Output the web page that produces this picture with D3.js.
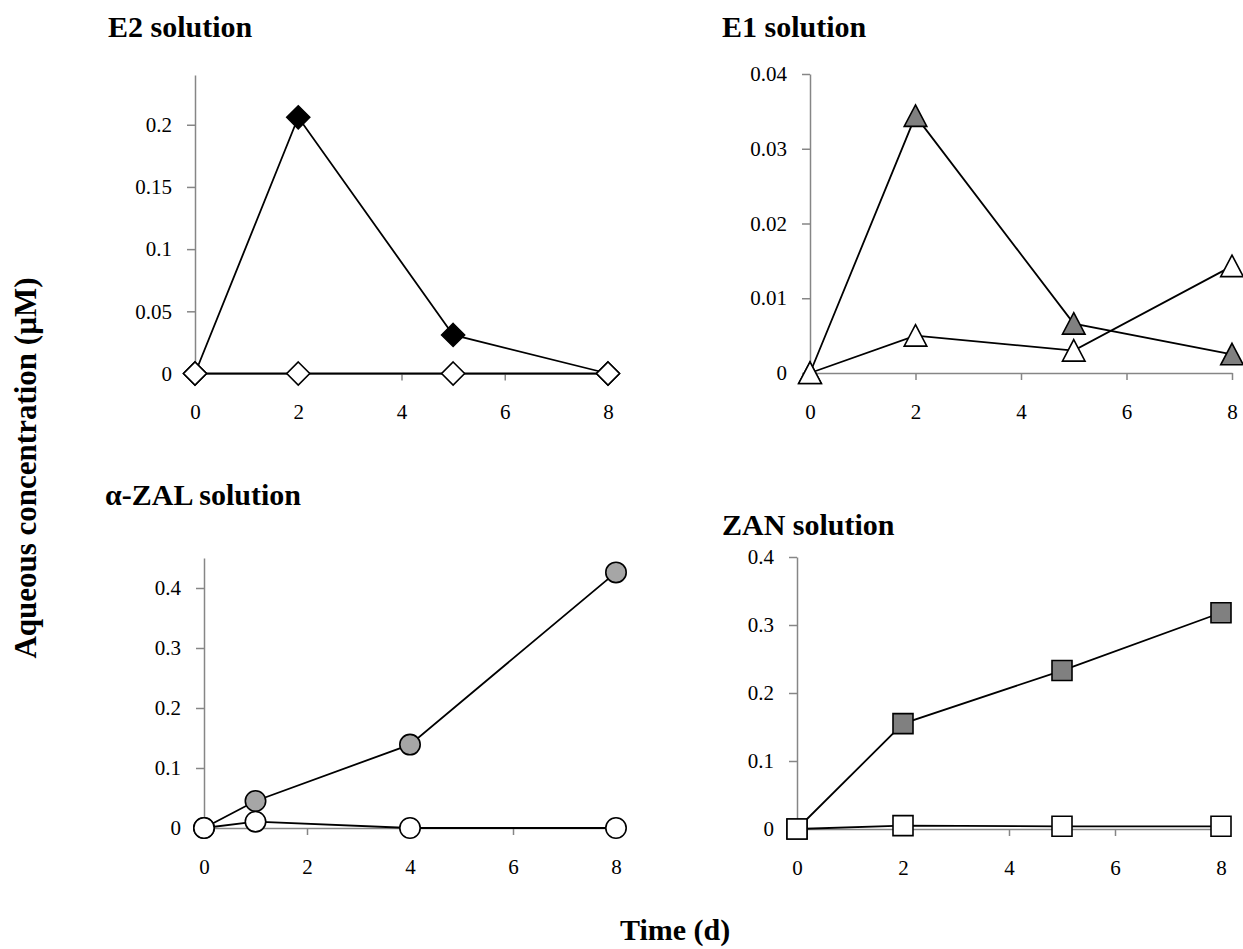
<!DOCTYPE html>
<html>
<head>
<meta charset="utf-8">
<script src="https://cdn.jsdelivr.net/npm/d3@7"></script>
<style>
  body { margin: 0; background: #fff; }
  svg { display: block; font-family: "Liberation Serif", "Times New Roman", serif; }
  .domain, .tick line { stroke: #868686; stroke-width: 1.5; }
</style>
</head>
<body>
<svg id="chart" width="1243" height="949"></svg>
<script>
// days sampled and aqueous concentrations (uM), filled series then open series
var e2Days = [0, 2, 5, 8];
var e2Filled = [0, 0.206, 0.031, 0];
var e2Open = [0, 0, 0, 0];

var e1Days = [0, 2, 5, 8];
var e1Filled = [0, 0.0344, 0.0066, 0.0025];
var e1Open = [0, 0.005, 0.003, 0.0143];

var zalDays = [0, 1, 4, 8];
var zalFilled = [0, 0.045, 0.139, 0.426];
var zalOpen = [0, 0.0105, 0, 0];

var zanDays = [0, 2, 5, 8];
var zanFilled = [0, 0.155, 0.233, 0.318];
var zanOpen = [0, 0.005, 0.004, 0.004];

var xTicks = [0, 2, 4, 6, 8];
var e2Ticks = [0, 0.05, 0.1, 0.15, 0.2];
var e1Ticks = [0, 0.01, 0.02, 0.03, 0.04];
var zalTicks = [0, 0.1, 0.2, 0.3, 0.4];
var zanTicks = [0, 0.1, 0.2, 0.3, 0.4];

var titles = ["E2 solution", "E1 solution", "\u03b1-ZAL solution", "ZAN solution"];

var svg = d3.select("#chart");
var serif = "'Liberation Serif', 'Times New Roman', serif";

// layout of each panel
var panels = [
  {title: titles[0], days: e2Days, filled: e2Filled, open: e2Open, ticks: e2Ticks, ymax: 0.24,
   x0: 195, x1: 608, yb: 373.5, yt: 75, tx: 108, ty: 37, shape: "diamond", fill: "#000"},
  {title: titles[1], days: e1Days, filled: e1Filled, open: e1Open, ticks: e1Ticks, ymax: 0.04,
   x0: 810, x1: 1232, yb: 373, yt: 74, tx: 722, ty: 37, shape: "triangle", fill: "#808080"},
  {title: titles[2], days: zalDays, filled: zalFilled, open: zalOpen, ticks: zalTicks, ymax: 0.45,
   x0: 204, x1: 616, yb: 828, yt: 558, tx: 105, ty: 505, shape: "circle", fill: "#a6a6a6"},
  {title: titles[3], days: zanDays, filled: zanFilled, open: zanOpen, ticks: zanTicks, ymax: 0.4,
   x0: 797, x1: 1221, yb: 829, yt: 557, tx: 722, ty: 535, shape: "square", fill: "#808080"}
];

function markerPath(shape){
  if(shape == "diamond") return "M0,-11.5L11.5,0L0,11.5L-11.5,0Z";
  if(shape == "triangle") return "M0,-11L11.3,10.5L-11.3,10.5Z";
  if(shape == "square") return "M-10,-10H10V10H-10Z";
  return null;
}

function drawMarkers(g, pts, shape, fill){
  if(shape == "circle"){
    g.selectAll(null).data(pts).enter().append("circle")
      .attr("cx", function(d){ return d[0]; })
      .attr("cy", function(d){ return d[1]; })
      .attr("r", 10.2)
      .attr("fill", fill).attr("stroke", "#000").attr("stroke-width", 1.6);
  } else {
    g.selectAll(null).data(pts).enter().append("path")
      .attr("d", markerPath(shape))
      .attr("transform", function(d){ return "translate(" + d[0] + "," + d[1] + ")"; })
      .attr("fill", fill).attr("stroke", "#000").attr("stroke-width", 1.6)
      .attr("stroke-linejoin", "miter");
  }
}

function styleAxis(a){
  a.attr("font-family", serif).attr("font-size", 21);
  a.selectAll(".tick text").style("font-family", serif).style("font-size", "21px").attr("fill", "#000");
}

panels.forEach(function(p){
  var x = d3.scaleLinear().domain([0, 8]).range([p.x0, p.x1]);
  var y = d3.scaleLinear().domain([0, p.ymax]).range([p.yb, p.yt]);
  var g = svg.append("g");

  g.append("g")
    .attr("transform", "translate(0," + p.yb + ")")
    .call(d3.axisBottom(x).tickValues(xTicks).tickSize(7).tickSizeOuter(0).tickPadding(24).tickFormat(d3.format("d")))
    .call(styleAxis);

  g.append("g")
    .attr("transform", "translate(" + p.x0 + ",0)")
    .call(d3.axisLeft(y).tickValues(p.ticks).tickSize(8).tickSizeOuter(0).tickPadding(15).tickFormat(d3.format("~g")))
    .call(styleAxis);

  var line = d3.line()
    .x(function(d){ return d[0]; })
    .y(function(d){ return d[1]; });

  var filledPts = p.days.map(function(d, i){ return [x(d), y(p.filled[i])]; });
  var openPts = p.days.map(function(d, i){ return [x(d), y(p.open[i])]; });

  [filledPts, openPts].forEach(function(pts){
    g.append("path").attr("d", line(pts))
      .attr("fill", "none").attr("stroke", "#000").attr("stroke-width", 1.8);
  });

  drawMarkers(g, filledPts, p.shape, p.fill);
  drawMarkers(g, openPts, p.shape, "#fff");

  svg.append("text")
    .attr("x", p.tx).attr("y", p.ty)
    .style("font-family", serif)
    .attr("font-size", 30).attr("font-weight", "bold")
    .text(p.title);
});

svg.append("text")
  .attr("transform", "translate(36,468) rotate(-90)")
  .attr("text-anchor", "middle")
  .style("font-family", serif)
  .attr("font-size", 31).attr("font-weight", "bold")
  .text("Aqueous concentration (\u00b5M)");

svg.append("text")
  .attr("x", 620).attr("y", 940)
  .style("font-family", serif)
  .attr("font-size", 30).attr("font-weight", "bold")
  .text("Time (d)");
</script>
</body>
</html>
